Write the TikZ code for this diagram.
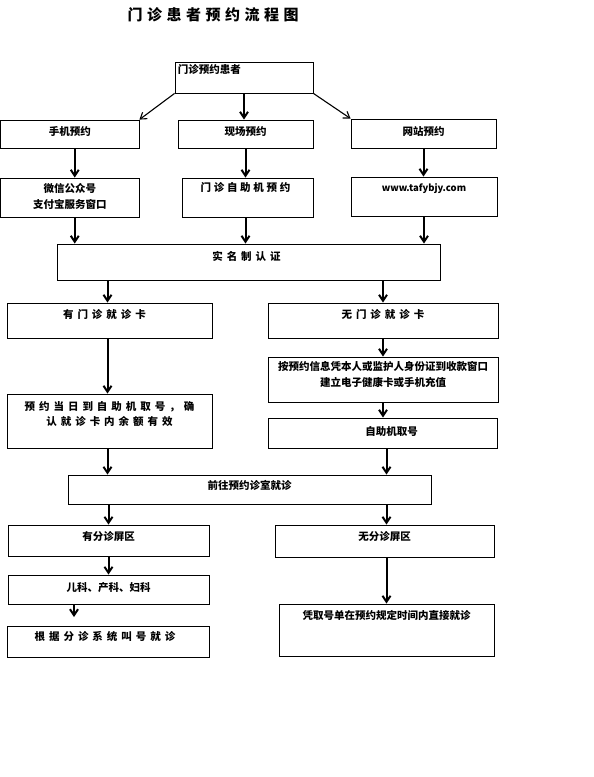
\documentclass[tikz,border=0pt]{standalone}
\usepackage{fontspec}
\setmainfont{Noto Sans CJK SC}
\usetikzlibrary{arrows.meta,positioning}

\tikzset{
  box/.style={draw, line width=0.8pt, inner sep=0pt},
  txt/.style={anchor=center, yshift=-12pt, inner sep=0pt, align=center,
    font=\fontsize{10.5}{16}\selectfont\bfseries},
  wide/.style={font=\fontsize{10.5}{16}\selectfont\bfseries\addfontfeature{LetterSpace=38}},
  arr/.style={-{Straight Barb[length=6pt,width=8pt]}, line width=2pt},
  diag/.style={-{Straight Barb[length=6pt,width=8pt]}, line width=1.1pt}
}

\begin{document}
\begin{tikzpicture}[x=1pt,y=-1pt]
    \useasboundingbox (0,0) rectangle (594,777);
    % title
    \node[font=\fontsize{15}{18}\selectfont\bfseries\addfontfeature{LetterSpace=30}] (title) at (213,15) {门诊患者预约流程图};

    % booking ways
    \node[box, minimum width=138pt, minimum height=31pt,
      label={[txt, anchor=west, yshift=4pt, xshift=3pt]north west:门诊预约患者}] (patient) at (244,77.5) {};
    \node[box, minimum width=138.5pt, minimum height=28pt, label={[txt]north:手机预约}] (phone) at (69.75,134) {};
    \node[box, minimum width=135pt, minimum height=28pt, label={[txt]north:现场预约}] (onsite) at (245.5,134) {};
    \node[box, minimum width=145pt, minimum height=29pt, label={[txt, yshift=-1pt]north:网站预约}] (web) at (423.5,133.5) {};

    \node[box, minimum width=138.5pt, minimum height=39pt,
      label={[txt, yshift=-6.5pt]north:微信公众号\\支付宝服务窗口}] (wechat) at (69.75,197.5) {};
    \node[box, minimum width=131pt, minimum height=39pt,
      label={[txt, yshift=2pt, xshift=-2pt,
        font=\fontsize{10.5}{16}\selectfont\bfseries\addfontfeature{LetterSpace=26}]north:门诊自助机预约}] (kiosk) at (247.5,197.5) {};
    \node[box, minimum width=146pt, minimum height=39pt,
      label={[txt, font=\fontsize{9.5}{12}\selectfont\bfseries]north:www.tafybjy.com}] (url) at (424,196.5) {};

    % real name check
    \node[box, minimum width=383pt, minimum height=36pt,
      label={[txt, wide, yshift=-1pt, xshift=-2pt]north:实名制认证}] (realname) at (248.5,262) {};

    % with card / without card
    \node[box, minimum width=205pt, minimum height=35pt,
      label={[txt, wide, xshift=-5pt]north:有门诊就诊卡}] (hascard) at (109.5,320.5) {};
    \node[box, minimum width=230pt, minimum height=35pt,
      label={[txt, wide]north:无门诊就诊卡}] (nocard) at (383,320.5) {};
    \node[box, minimum width=205pt, minimum height=54pt,
      label={[txt, yshift=-8.5pt,
        font=\fontsize{10.5}{15}\selectfont\bfseries\addfontfeature{LetterSpace=38}]north:预约当日到自助机取号，确\\认就诊卡内余额有效}] (sameday) at (109.5,421) {};
    \node[box, minimum width=230pt, minimum height=45pt,
      label={[txt, yshift=-6pt]north:按预约信息凭本人或监护人身份证到收款窗口\\建立电子健康卡或手机充值}] (register) at (383,379.5) {};
    \node[box, minimum width=229pt, minimum height=30pt,
      label={[txt, yshift=-2pt, xshift=9pt]north:自助机取号}] (takeno) at (382.5,433) {};

    \node[box, minimum width=363pt, minimum height=29pt,
      label={[txt, yshift=1pt]north:前往预约诊室就诊}] (goroom) at (249.5,489.5) {};

    % screen areas
    \node[box, minimum width=201pt, minimum height=31pt, label={[txt]north:有分诊屏区}] (hasscreen) at (108.5,540.5) {};
    \node[box, minimum width=219pt, minimum height=32pt, label={[txt]north:无分诊屏区}] (noscreen) at (384.5,541) {};
    \node[box, minimum width=201pt, minimum height=29pt, label={[txt, yshift=-1pt]north:儿科、产科、妇科}] (dept) at (108.5,589.5) {};
    \node[box, minimum width=202pt, minimum height=31pt,
      label={[txt, wide, yshift=1pt, xshift=-3pt]north:根据分诊系统叫号就诊}] (callno) at (108,641.5) {};
    \node[box, minimum width=215pt, minimum height=52pt,
      label={[txt]north:凭取号单在预约规定时间内直接就诊}] (direct) at (386.5,630) {};
    \coordinate (deptend) at (74,617);

    % arrows
    \draw[diag] (patient.south west) -- (phone.north east);
    \draw[arr] (patient.south) -- (patient.south |- onsite.north);
    \draw[diag] (patient.south east) -- (web.north west);
    \draw[arr] ([xshift=5pt]phone.south) -- ([xshift=5pt]wechat.north);
    \draw[arr] (onsite.south) -- (onsite.south |- kiosk.north);
    \draw[arr] (web.south) -- (web.south |- url.north);
    \draw[arr] ([xshift=5pt]wechat.south) -- ([xshift=5pt]wechat.south |- realname.north);
    \draw[arr] ([xshift=-2pt]kiosk.south) -- ([xshift=-2pt]kiosk.south |- realname.north);
    \draw[arr] (url.south) -- (url.south |- realname.north);
    \draw[arr] ([xshift=-2pt]hascard.north |- realname.south) -- ([xshift=-2pt]hascard.north);
    \draw[arr] (nocard.north |- realname.south) -- (nocard.north);
    \draw[arr] ([xshift=-2pt]hascard.south) -- ([xshift=-2pt]sameday.north);
    \draw[arr] (nocard.south) -- (nocard.south |- register.north);
    \draw[arr] (register.south) -- (register.south |- takeno.north);
    \draw[arr] ([xshift=-2pt]sameday.south) -- ([xshift=-2pt]sameday.south |- goroom.north);
    \draw[arr] ([xshift=4pt]takeno.south) -- ([xshift=4pt]takeno.south |- goroom.north);
    \draw[arr] (hasscreen.north |- goroom.south) -- (hasscreen.north);
    \draw[arr] ([xshift=2pt]noscreen.north |- goroom.south) -- ([xshift=2pt]noscreen.north);
    \draw[arr] (hasscreen.south) -- (dept.north);
    \draw[arr] (deptend |- dept.south) -- (deptend);
    \draw[arr] ([xshift=2pt]noscreen.south) -- ([xshift=2pt]noscreen.south |- direct.north);
\end{tikzpicture}
\end{document}
